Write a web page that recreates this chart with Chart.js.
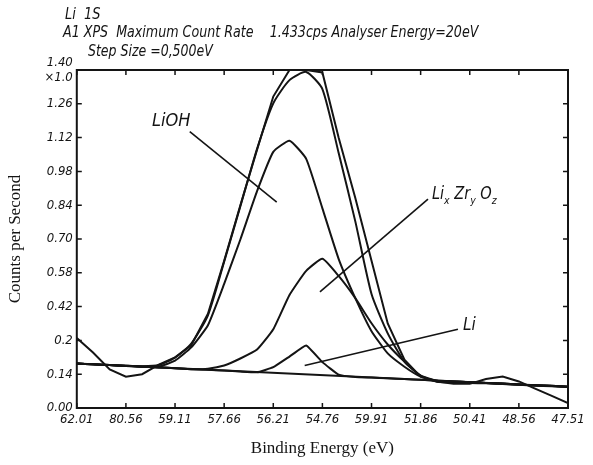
<!DOCTYPE html>
<html>
<head>
<meta charset="utf-8">
<script src="https://cdn.jsdelivr.net/npm/chart.js@4/dist/chart.umd.min.js"></script>
<style>
body { margin: 0; background: #fff; }
</style>
</head>
<body>
<canvas id="myChart" width="593" height="465"></canvas>
<script>
// binding energy tick labels, as printed on the plot
var energyLabels = ['62.01', '80.56', '59.11', '57.66', '56.21', '54.76', '59.91', '51.86', '50.41', '48.56', '47.51'];
var energyTicks = [0, 1, 2, 3, 4, 5, 6, 7, 8, 9, 10];
var countLabels = ['0.00', '0.14', '0.2', '0.42', '0.58', '0.70', '0.84', '0.98', '1.12', '1.26', ['1.40', '\u00d71.0']];
var countTicks = [0, 0.14, 0.28, 0.42, 0.56, 0.70, 0.84, 0.98, 1.12, 1.26, 1.40];

// channel positions (in tick units along the energy axis)
var channels = [0, 0.33, 0.67, 1, 1.33, 1.67, 2, 2.33, 2.67, 3, 3.33, 3.67, 4, 4.33, 4.67, 5,
  5.33, 5.67, 6, 6.33, 6.67, 7, 7.33, 7.67, 8, 8.33, 8.67, 9, 9.33, 9.67, 10];

var measured = [0.29, 0.23, 0.16, 0.13, 0.14, 0.18, 0.21, 0.26, 0.39, 0.61, 0.84, 1.07, 1.29, 1.40, 1.40, 1.39,
  1.12, 0.87, 0.61, 0.35, 0.20, 0.13, 0.11, 0.10, 0.10, 0.12, 0.13, 0.11, 0.08, 0.05, 0.02];
var fitSum = [0.184, 0.181, 0.178, 0.175, 0.173, 0.178, 0.209, 0.267, 0.384, 0.606, 0.836, 1.074, 1.262, 1.358, 1.392, 1.321,
  1.057, 0.773, 0.472, 0.309, 0.192, 0.134, 0.109, 0.107, 0.104, 0.102, 0.099, 0.096, 0.092, 0.090, 0.087];
var lioh = [0.184, 0.181, 0.178, 0.175, 0.171, 0.171, 0.196, 0.251, 0.343, 0.514, 0.698, 0.898, 1.061, 1.107, 1.032, 0.827,
  0.618, 0.455, 0.318, 0.226, 0.171, 0.130, 0.113, 0.109, 0.107, 0.104, 0.100, 0.097, 0.094, 0.091, 0.088];
var lizro = [0.184, 0.181, 0.178, 0.174, 0.171, 0.168, 0.165, 0.161, 0.163, 0.176, 0.205, 0.242, 0.326, 0.468, 0.568, 0.618,
  0.547, 0.455, 0.351, 0.263, 0.192, 0.134, 0.113, 0.110, 0.107, 0.104, 0.101, 0.097, 0.094, 0.092, 0.088];
var lithium = [0.184, 0.181, 0.178, 0.174, 0.171, 0.168, 0.165, 0.161, 0.158, 0.155, 0.151, 0.148, 0.169, 0.213, 0.259, 0.190,
  0.138, 0.128, 0.126, 0.123, 0.120, 0.117, 0.113, 0.110, 0.107, 0.104, 0.101, 0.097, 0.094, 0.092, 0.088];
var background = [{x: 0, y: 0.184}, {x: 10, y: 0.088}];

// label leader lines
var liohLeader = [{x: 2.30, y: 1.145}, {x: 4.07, y: 0.853}];
var lizroLeader = [{x: 7.15, y: 0.865}, {x: 4.95, y: 0.481}];
var liLeader = [{x: 7.76, y: 0.326}, {x: 4.64, y: 0.176}];

var headerLines = ['Li  1S', 'A1 XPS  Maximum Count Rate    1.433cps Analyser Energy=20eV', 'Step Size =0,500eV'];

function pts(ys) {
  return ys.map(function (v, i) { return {x: channels[i], y: v}; });
}

var ink = '#141414';
var handFont = '"Liberation Sans Narrow", "DejaVu Sans Condensed", "Liberation Sans", sans-serif';

// draw text squeezed horizontally, like the stencil lettering of the original
function squeezed(c, text, x, y, sx) {
  c.save();
  c.translate(x, y);
  c.scale(sx, 1);
  c.fillText(text, 0, 0);
  c.restore();
  return c.measureText(text).width * sx;
}

var frameTicks = {
  id: 'frameTicks',
  afterDatasetsDraw: function (chart) {
    var a = chart.chartArea, c = chart.ctx, xs = chart.scales.x, ys = chart.scales.y;
    c.save();
    c.strokeStyle = ink;
    c.lineWidth = 2;
    c.strokeRect(a.left, a.top, a.right - a.left, a.bottom - a.top);
    c.lineWidth = 1.5;
    c.beginPath();
    xs.ticks.forEach(function (t) {
      var px = xs.getPixelForValue(t.value);
      c.moveTo(px, a.bottom); c.lineTo(px, a.bottom - 5);
      c.moveTo(px, a.top); c.lineTo(px, a.top + 5);
    });
    ys.ticks.forEach(function (t) {
      var py = ys.getPixelForValue(t.value);
      c.moveTo(a.left, py); c.lineTo(a.left + 5, py);
      c.moveTo(a.right, py); c.lineTo(a.right - 5, py);
    });
    c.stroke();
    c.restore();
  }
};

var labels = {
  id: 'labels',
  afterDraw: function (chart) {
    var c = chart.ctx, xs = chart.scales.x, ys = chart.scales.y;
    c.save();
    c.fillStyle = ink;
    c.textBaseline = 'middle';
    c.font = 'italic 16px ' + handFont;
    squeezed(c, headerLines[0], 65, 15, 0.9);
    squeezed(c, headerLines[1], 63, 33, 0.88);
    squeezed(c, headerLines[2], 88, 52, 0.87);

    c.font = 'italic 18px ' + handFont;
    squeezed(c, 'LiOH', xs.getPixelForValue(1.53), ys.getPixelForValue(1.187), 1.0);
    c.font = 'italic 17px ' + handFont;
    squeezed(c, 'Li', xs.getPixelForValue(7.86), ys.getPixelForValue(0.343), 1.0);

    // Li_x Zr_y O_z with subscripts
    var x = xs.getPixelForValue(7.23), y = ys.getPixelForValue(0.886);
    var parts = [['Li', 0], ['x', 1], [' Zr', 0], ['y', 1], [' O', 0], ['z', 1]];
    parts.forEach(function (p) {
      c.font = p[1] ? 'italic 11px ' + handFont : 'italic 17px ' + handFont;
      x += squeezed(c, p[0], x, y + (p[1] ? 7 : 0), 0.95);
    });
    c.restore();
  }
};

function curve(data, w, tension) {
  return {data: data, borderColor: ink, borderWidth: w, pointRadius: 0, tension: tension, fill: false};
}

var ctx = document.getElementById('myChart').getContext('2d');
var myChart = new Chart(ctx, {
  type: 'line',
  data: {
    datasets: [
      curve(background, 2, 0),
      curve(pts(measured), 2, 0),
      curve(pts(fitSum), 2, 0.2),
      curve(pts(lioh), 2, 0.15),
      curve(pts(lizro), 2, 0.15),
      curve(pts(lithium), 2, 0.1),
      curve(liohLeader, 1.6, 0),
      curve(lizroLeader, 1.6, 0),
      curve(liLeader, 1.6, 0)
    ]
  },
  options: {
    responsive: false,
    animation: false,
    devicePixelRatio: 1,
    layout: {padding: {top: 70, right: 25, left: 5, bottom: 6}},
    plugins: {
      legend: {display: false},
      tooltip: {enabled: false}
    },
    scales: {
      x: {
        type: 'linear',
        min: 0,
        max: 10,
        afterBuildTicks: function (s) { s.ticks = energyTicks.map(function (v) { return {value: v}; }); },
        ticks: {
          autoSkip: false,
          maxRotation: 0,
          padding: 4,
          color: ink,
          font: {family: handFont, size: 13, style: 'italic'},
          callback: function (v, i) { return energyLabels[i]; }
        },
        grid: {display: false, drawTicks: false},
        border: {display: false},
        title: {
          display: true,
          text: 'Binding Energy (eV)',
          color: ink,
          font: {family: '"Liberation Serif", "Times New Roman", serif', size: 17},
          padding: {top: 7, bottom: 0}
        }
      },
      y: {
        type: 'linear',
        min: 0,
        max: 1.40,
        afterBuildTicks: function (s) { s.ticks = countTicks.map(function (v) { return {value: v}; }); },
        ticks: {
          autoSkip: false,
          padding: 4,
          color: ink,
          font: {family: handFont, size: 13, style: 'italic', lineHeight: 1.15},
          callback: function (v, i) { return countLabels[i]; }
        },
        grid: {display: false, drawTicks: false},
        border: {display: false},
        title: {
          display: true,
          text: 'Counts per Second',
          color: ink,
          font: {family: '"Liberation Serif", "Times New Roman", serif', size: 17},
          padding: {top: 0, bottom: 15}
        }
      }
    }
  },
  plugins: [frameTicks, labels]
});
</script>
</body>
</html>
